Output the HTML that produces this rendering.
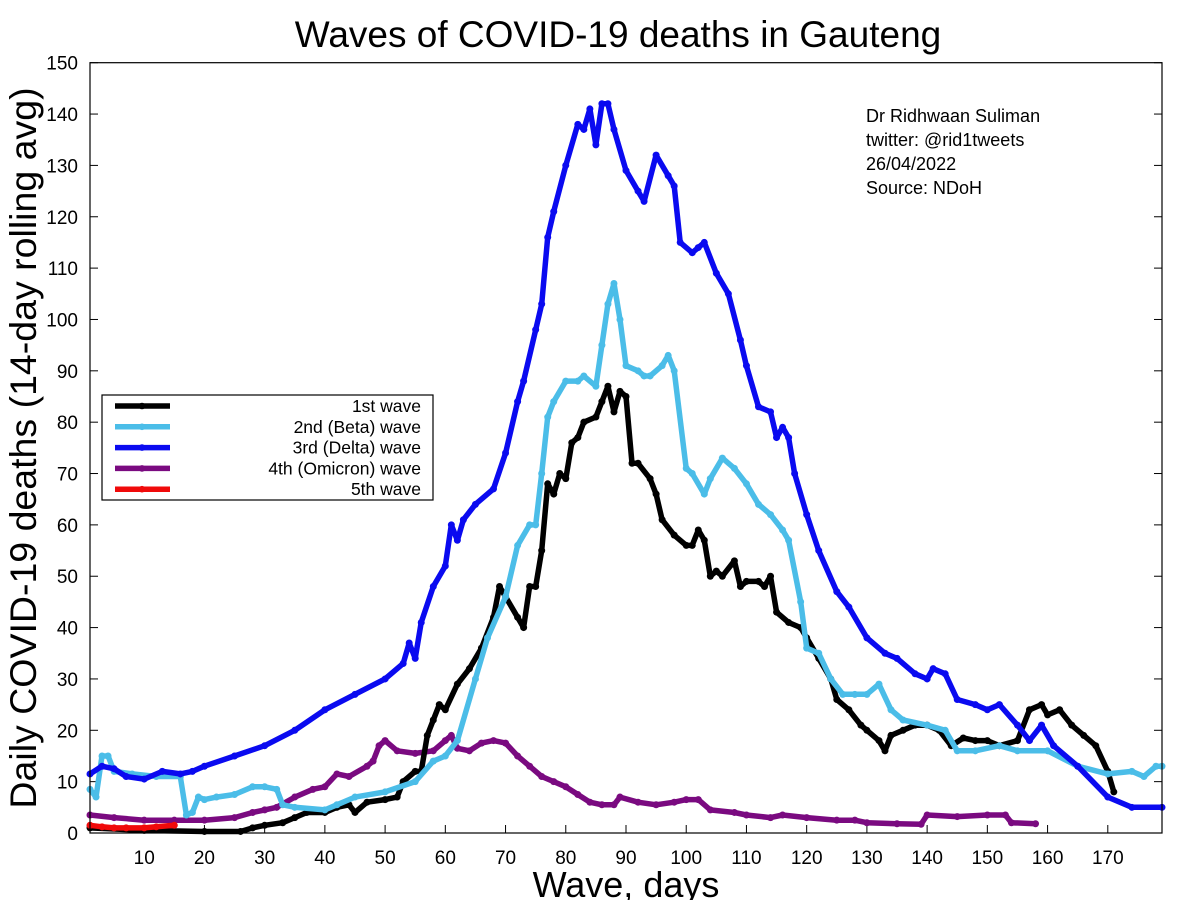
<!DOCTYPE html>
<html><head><meta charset="utf-8"><style>
body{margin:0;background:#fff}
svg text{font-family:"Liberation Sans",sans-serif}
</style></head><body>
<svg id="chart" width="1200" height="900" xmlns="http://www.w3.org/2000/svg">
<rect width="1200" height="900" fill="#fff"/>
<text x="618" y="47" font-size="37" text-anchor="middle">Waves of COVID-19 deaths in Gauteng</text>
<text transform="translate(36,448) rotate(-90)" font-size="37.5" text-anchor="middle">Daily COVID-19 deaths (14-day rolling avg)</text>
<text x="626" y="897" font-size="36" text-anchor="middle">Wave, days</text>
<g font-size="18">
<text x="866" y="122">Dr Ridhwaan Suliman</text>
<text x="866" y="146">twitter: @rid1tweets</text>
<text x="866" y="170">26/04/2022</text>
<text x="866" y="194">Source: NDoH</text>
</g>
<g id="axes"></g>
<g id="series"></g>
<rect x="90" y="62.7" width="1072" height="770.3" fill="none" stroke="#000" stroke-width="1.2"/>
<g id="legend">
<rect x="102" y="395" width="331" height="105" fill="#fff" stroke="#000" stroke-width="1.2"/>
</g>
</svg>
<script>
const xTicks=[10,20,30,40,50,60,70,80,90,100,110,120,130,140,150,160,170];
const yTicks=[0,10,20,30,40,50,60,70,80,90,100,110,120,130,140,150];
const seriesNames=["1st wave","2nd (Beta) wave","3rd (Delta) wave","4th (Omicron) wave","5th wave"];
const seriesColors=["#000000","#4bbde8","#0a0af0","#7a0a80","#f00a0a"];
const wave1Days=[1,10,20,26,28,30,33,35,37,40,42,44,45,47,50,52,53,55,56,57,58,59,60,62,64,66,68,69,70,72,73,74,75,76,77,78,79,80,81,82,83,85,86,87,88,89,90,91,92,94,95,96,98,100,101,102,103,104,105,106,108,109,110,112,113,114,115,117,119,120,122,124,125,127,129,130,132,133,134,136,138,140,142,144,146,148,150,152,155,157,159,160,162,164,166,168,170,171];
const wave1Vals=[1,0.5,0.3,0.3,1,1.5,2,3,4,4,5,5.5,4,6,6.5,7,10,12,12,19,22,25,24,29,32,36,42,48,46,42,40,48,48,55,68,66,70,69,76,77,80,81,84,87,82,86,85,72,72,69,66,61,58,56,56,59,57,50,51,50,53,48,49,49,48,50,43,41,40,38,34,30,26,24,21,20,18,16,19,20,21,21,20,17,18.5,18,18,17,18,24,25,23,24,21,19,17,12,8];
const wave2Days=[1,2,3,4,5,8,12,16,17,18,19,20,22,25,28,30,32,33,35,40,42,45,50,55,58,60,62,65,67,70,72,74,75,76,77,78,80,82,83,85,86,87,88,89,90,92,93,94,96,97,98,100,101,103,104,106,108,110,112,114,116,117,119,120,122,124,126,128,130,132,134,136,140,143,145,148,152,155,160,165,170,174,176,178,179];
const wave2Vals=[8.5,7,15,15,12,11.5,11,11,3.5,4,7,6.5,7,7.5,9,9,8.5,5.5,5,4.5,5.5,7,8,10,14,15,18,30,38,46,56,60,60,70,81,84,88,88,89,87,95,103,107,100,91,90,89,89,91,93,90,71,70,66,69,73,71,68,64,62,59,57,45,36,35,30,27,27,27,29,24,22,21,20,16,16,17,16,16,13,11.5,12,11,13,13];
const wave3Days=[1,3,5,7,10,13,16,18,20,25,30,35,40,45,50,53,54,55,56,58,60,61,62,63,65,68,70,72,73,75,76,77,78,80,82,83,84,85,86,87,88,90,92,93,95,97,98,99,101,102,103,105,107,109,110,112,114,115,116,117,118,120,122,125,127,130,133,135,138,140,141,143,145,148,150,152,155,157,159,161,165,170,174,179];
const wave3Vals=[11.5,13,12.5,11,10.5,12,11.5,12,13,15,17,20,24,27,30,33,37,34,41,48,52,60,57,61,64,67,74,84,88,98,103,116,121,130,138,137,141,134,142,142,137,129,125,123,132,128,126,115,113,114,115,109,105,96,91,83,82,77,79,77,70,62,55,47,44,38,35,34,31,30,32,31,26,25,24,25,21,18,21,17,13,7,5,5];
const wave4Days=[1,5,10,15,20,25,28,30,32,35,38,40,42,44,47,48,49,50,52,55,58,60,61,62,64,66,68,70,72,74,76,78,80,82,84,86,88,89,92,95,98,100,102,104,108,110,114,116,120,125,128,130,135,139,140,145,150,153,154,158];
const wave4Vals=[3.5,3,2.5,2.5,2.5,3,4,4.5,5,7,8.5,9,11.5,11,13,14,17,18,16,15.5,16,18,19,16.5,16,17.5,18,17.5,15,13,11,10,9,7.5,6,5.5,5.5,7,6,5.5,6,6.5,6.5,4.5,4,3.5,3,3.5,3,2.5,2.5,2,1.8,1.7,3.5,3.2,3.5,3.5,2,1.8];
const wave5Days=[1,3,5,7,10,12,15];
const wave5Vals=[1.5,1.2,1,1,1,1.2,1.5];

const NS="http://www.w3.org/2000/svg";
const X0=90,X1=1162,Y0=833,Y1=62.7,DMIN=1,DMAX=179,VMAX=150;
function xs(d){return X0+(d-DMIN)/(DMAX-DMIN)*(X1-X0);}
function ys(v){return Y0-v/VMAX*(Y0-Y1);}
function mk(tag,attrs,parent){const e=document.createElementNS(NS,tag);for(const k in attrs)e.setAttribute(k,attrs[k]);parent.appendChild(e);return e;}
const axes=document.getElementById('axes');
xTicks.forEach(t=>{
  const l=mk('line',{x1:xs(t),x2:xs(t),y1:Y0,y2:Y0-8,stroke:'#000','stroke-width':1},axes);
  
  
  const tx=mk('text',{x:xs(t),y:Y0+31,'font-size':19,'text-anchor':'middle'},axes);
  tx.textContent=t;
  
  
});
yTicks.forEach(t=>{
  const l=mk('line',{x1:X0,x2:X0+8,y1:ys(t),y2:ys(t),stroke:'#000','stroke-width':1},axes);
  
  
  const l2=mk('line',{x1:X1,x2:X1-8,y1:ys(t),y2:ys(t),stroke:'#000','stroke-width':1},axes);
  
  
  const tx=mk('text',{x:X0-12,y:ys(t)+7,'font-size':19,'text-anchor':'end'},axes);
  tx.textContent=t;
  
  
});
const allDays=[wave1Days,wave2Days,wave3Days,wave4Days,wave5Days];
const allVals=[wave1Vals,wave2Vals,wave3Vals,wave4Vals,wave5Vals];
const sg=document.getElementById('series');
[3,0,1,2,4].forEach(i=>{
  const g=mk('g',{},sg);
  
  
  const pts=allDays[i].map((d,j)=>xs(d).toFixed(1)+','+ys(allVals[i][j]).toFixed(1)).join(' ');
  const pl=mk('polyline',{points:pts,fill:'none',stroke:seriesColors[i],'stroke-width':5.5,'stroke-linejoin':'round','stroke-linecap':'round'},g);
  
  
  allDays[i].forEach((d,j)=>{
    const c=mk('circle',{cx:xs(d),cy:ys(allVals[i][j]),r:3.5,fill:seriesColors[i]},g);
    
    
  });
});
const lg=document.getElementById('legend');
seriesNames.forEach((n,i)=>{
  const y=406+i*20.8;
  const l=mk('line',{x1:115,x2:170,y1:y,y2:y,stroke:seriesColors[i],'stroke-width':5.5},lg);
  
  
  const c=mk('circle',{cx:142,cy:y,r:3.3,fill:seriesColors[i]},lg);
  
  
  const t=mk('text',{x:421,y:y+6,'font-size':17.5,'text-anchor':'end'},lg);
  t.textContent=n;
  
  
});
</script>
</body></html>
